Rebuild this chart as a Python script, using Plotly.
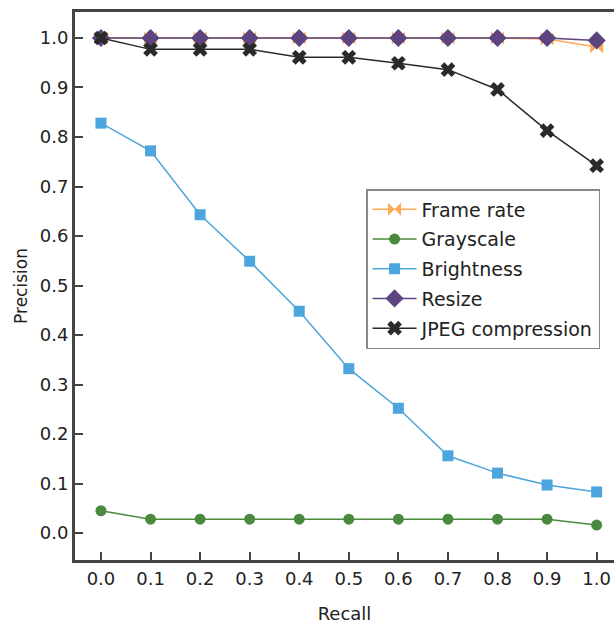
import plotly.graph_objects as go

recall = [0.0, 0.1, 0.2, 0.3, 0.4, 0.5, 0.6, 0.7, 0.8, 0.9, 1.0]
frame_rate = [1.0, 1.0, 1.0, 1.0, 1.0, 1.0, 1.0, 1.0, 1.0, 0.998, 0.982]
grayscale = [0.045, 0.028, 0.028, 0.028, 0.028, 0.028, 0.028, 0.028, 0.028, 0.028, 0.016]
brightness = [0.828, 0.772, 0.643, 0.549, 0.448, 0.332, 0.252, 0.156, 0.121, 0.097, 0.083]
resize = [1.0, 1.0, 1.0, 1.0, 1.0, 1.0, 1.0, 1.0, 1.0, 1.0, 0.995]
jpeg = [1.0, 0.977, 0.977, 0.977, 0.961, 0.961, 0.949, 0.936, 0.896, 0.813, 0.742]

x_ticks = [0.0, 0.1, 0.2, 0.3, 0.4, 0.5, 0.6, 0.7, 0.8, 0.9, 1.0]
y_ticks = [0.0, 0.1, 0.2, 0.3, 0.4, 0.5, 0.6, 0.7, 0.8, 0.9, 1.0]

series = [
    ("Frame rate", frame_rate, "#FFAA55", "bowtie", 13),
    ("Grayscale", grayscale, "#4A8A3C", "circle", 11),
    ("Brightness", brightness, "#4CA5DC", "square", 11),
    ("Resize", resize, "#5C4480", "diamond", 14),
    ("JPEG compression", jpeg, "#2A2A2A", "x", 13),
]

fig = go.Figure()
for i, (name, vals, color, sym, size) in enumerate(series):
    fig.add_trace(go.Scatter(
        x=recall, y=vals, name=name, mode="lines+markers",
        line=dict(color=color, width=1.5),
        marker=dict(symbol=sym, size=size, color=color, line=dict(width=0)),
        legendgroup=f"g{i}",
    ))

font_family = "DejaVu Sans"
axis_col = "#444444"

fig.update_layout(
    width=614, height=624,
    margin=dict(l=75, r=0, t=12, b=64),
    plot_bgcolor="white", paper_bgcolor="white",
    font=dict(family=font_family, size=18, color="#222222"),
    showlegend=True,
    legend=dict(
        x=0.54, y=0.677, xanchor="left", yanchor="top",
        bgcolor="white", bordercolor="#888888", borderwidth=1.5,
        font=dict(family=font_family, size=19, color="#222222"),
        tracegroupgap=2, itemwidth=44,
    ),
    xaxis=dict(
        range=[-0.0524, 1.035], tickvals=x_ticks,
        ticktext=[f"{v:.1f}" for v in x_ticks],
        showgrid=False, zeroline=False,
        showline=True, linecolor=axis_col, linewidth=3, mirror=True,
        ticks="inside", ticklen=8, tickwidth=1.5, tickcolor=axis_col,
        title=dict(text="Recall", font=dict(size=18), standoff=20),
    ),
    yaxis=dict(
        range=[-0.0545, 1.0525], tickvals=y_ticks,
        ticktext=[f"{v:.1f}" for v in y_ticks],
        showgrid=False, zeroline=False,
        showline=True, linecolor=axis_col, linewidth=3, mirror=False,
        ticks="inside", ticklen=8, tickwidth=1.5, tickcolor=axis_col,
        title=dict(text="Precision", font=dict(size=17), standoff=8),
    ),
)

fig.write_html(
    "out.html",
    config={"displayModeBar": False},
    post_script="document.body.style.margin='0';document.body.style.overflow='hidden';",
)
